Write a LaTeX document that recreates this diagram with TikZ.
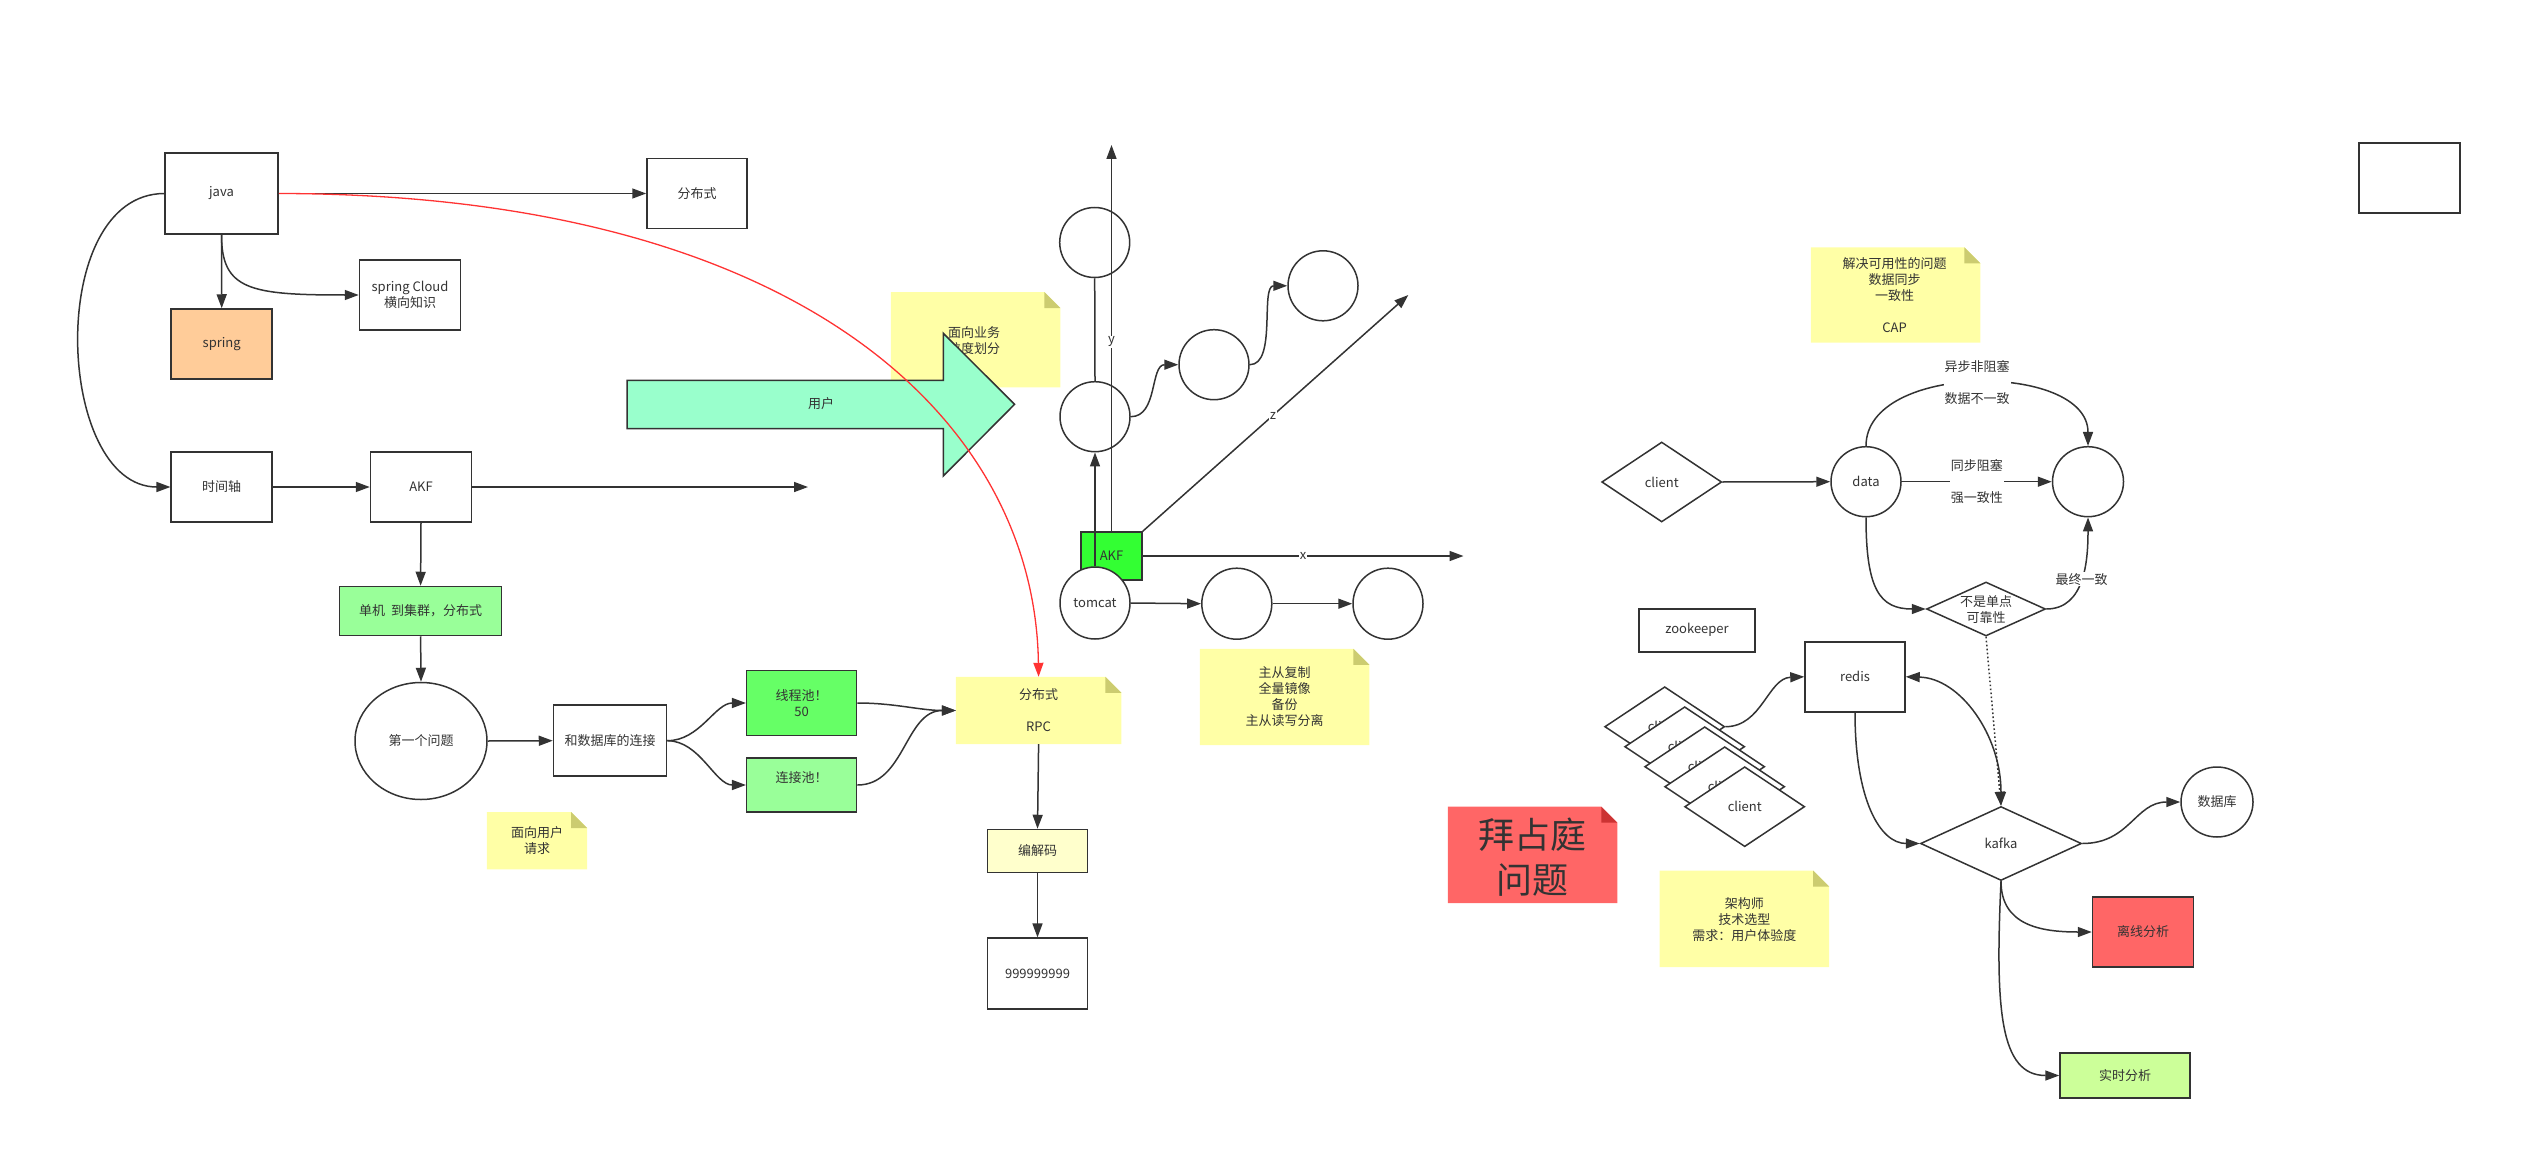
\documentclass[tikz,border=0pt]{standalone}
\usepackage{fontspec}
\setmainfont{Noto Sans CJK SC}
\usetikzlibrary{shapes.geometric,arrows.meta}
\definecolor{ln}{HTML}{333333}
\definecolor{springc}{HTML}{FFCC99}
\definecolor{gA}{HTML}{99FF99}
\definecolor{gB}{HTML}{66FF66}
\definecolor{gC}{HTML}{33FF33}
\definecolor{userc}{HTML}{99FFCC}
\definecolor{notey}{HTML}{FFFFA6}
\definecolor{foldy}{HTML}{CCCC70}
\definecolor{codecc}{HTML}{FFFFCC}
\definecolor{redn}{HTML}{FF6666}
\definecolor{redfold}{HTML}{CC3333}
\definecolor{rtc}{HTML}{CCFF99}
\definecolor{redl}{HTML}{FF3333}
\newcommand\mynote[7]{%
  \node[inner sep=0pt, minimum width=#4pt, minimum height=#5pt] (#1) at (#2,#3) {};
  \fill[#6] (#1.south west) -- (#1.north west) -- ([xshift=-16pt]#1.north east) -- ([yshift=-16pt]#1.north east) -- (#1.south east) -- cycle;
  \fill[#7] ([xshift=-16pt]#1.north east) -- ([yshift=-16pt]#1.north east) -- ([xshift=-16pt,yshift=-16pt]#1.north east) -- cycle;
}
\begin{document}
\begin{tikzpicture}[x=1pt,y=-1pt,
  every node/.style={font=\fontsize{13}{16}\selectfont, text=ln},
  sz/.style 2 args={minimum width=#1pt, minimum height=#2pt},
  box/.style={draw=ln, line width=1.5pt, fill=white, inner sep=1pt, align=center},
  circ/.style={ellipse, draw=ln, line width=1.5pt, fill=white, inner sep=0pt},
  dia/.style={diamond, draw=ln, line width=1.5pt, fill=white, inner sep=0pt},
  conn/.style={draw=ln, line width=1.5pt},
  arr/.style={conn, -{Triangle[length=14pt,width=10pt]}},
  lbl/.style={fill=white, inner sep=1pt, align=center},
  ntext/.style={align=center}]
\useasboundingbox (0,0) rectangle (2522,1161);

% ---------- notes (background) ----------
\mynote{rpc}{1038.6}{710.5}{165}{67}{notey}{foldy}
\node[ntext] (rpct) at (rpc) {分布式\\~\\RPC};
\mynote{user}{537}{840.7}{100}{57}{notey}{foldy}
\node[ntext] (usert) at (user) {面向用户\\请求};
\mynote{biz}{975.6}{339.7}{169}{95}{notey}{foldy}
\node[ntext] (bizt) at (974,340.5) {面向业务\\粒度划分};
\mynote{ms}{1284.6}{697}{169}{96}{notey}{foldy}
\node[ntext] (mst) at (ms) {主从复制\\全量镜像\\备份\\主从读写分离};
\mynote{byz}{1532.6}{854.8}{169}{96}{redn}{redfold}
\node[ntext, font=\fontsize{36}{45}\selectfont] (byzt) at (1532.6,857) {拜占庭\\问题};
\mynote{arch}{1744.4}{918.8}{169}{96}{notey}{foldy}
\node[ntext] (archt) at (1744.4,919.5) {架构师\\技术选型\\需求：用户体验度};
\mynote{cap}{1895.6}{295}{169}{95}{notey}{foldy}
\node[ntext] (capt) at (1894.5,295) {解决可用性的问题\\数据同步\\一致性\\~\\CAP};

% ---------- big arrow ----------
\draw[conn, fill=userc] (627,380.3) -- (943.3,380.3) -- (943.3,333.3) -- (1014.6,404.3) -- (943.3,476) -- (943.3,428.7) -- (627,428.7) -- cycle;
\node (usr) at (821,404) {用户};

% ---------- left nodes ----------
\node[box,sz={113}{81}] (java) at (221.5,193.5) {java};
\node[box,sz={100}{70}] (fbs) at (697,193.5) {分布式};
\node[box,sz={101}{70},fill=springc] (spring) at (221.7,344) {spring};
\node[box,sz={101}{70}] (scloud) at (410,295) {spring Cloud\\横向知识};
\node[box,sz={101}{70}] (time) at (221.7,487) {时间轴};
\node[box,sz={101}{70}] (akfa) at (421,487) {AKF};
\coordinate (akfend) at (808,487);
\node[box,sz={162}{49},fill=gA] (single) at (420.6,611) {单机\ \ 到集群，分布式};
\node[circ,sz={132}{117}] (q1) at (421,741) {第一个问题};
\node[box,sz={113}{71}] (db) at (610,740.7) {和数据库的连接};
\node[box,sz={110}{65},fill=gB] (tp) at (801.7,703) {线程池！\\50};
\node[box,sz={110}{54},fill=gA] (cp) at (801.7,785) {连接池！\\~};
\node[box,sz={100}{43},fill=codecc] (codec) at (1037.5,851) {编解码};
\node[box,sz={100}{71}] (nines) at (1037.5,973.7) {999999999};

% ---------- AKF cube ----------
\node[circ,sz={70}{70}] (c1) at (1094.7,242.5) {};
\node[circ,sz={70}{70}] (c2) at (1095,416.7) {};
\node[circ,sz={70}{70}] (c3) at (1214,364.7) {};
\node[circ,sz={70}{70}] (c4) at (1323,285.8) {};
\node[box,sz={61}{48},fill=gC] (akfb) at (1111.5,556) {AKF};
\node[circ,sz={70}{72}] (tomcat) at (1095,603) {tomcat};
\node[circ,sz={70}{71}] (c5) at (1236.8,603.7) {};
\node[circ,sz={70}{71}] (c6) at (1388,603.7) {};
\coordinate (yend) at (1111.5,145);
\coordinate (zend) at (1408.3,295);
\coordinate (xend) at (1463.5,556);

% ---------- right nodes ----------
\node[box,sz={101}{70}] (tr) at (2409.5,178) {};
\node[dia,sz={120}{80}] (client) at (1661.7,482) {client};
\node[circ,sz={70}{70}] (data) at (1866,481.7) {data};
\node[circ,sz={71}{70}] (rc) at (2088,481.7) {};
\node[dia,sz={119}{54}] (ns) at (1986,609) {};
\node[ntext] (nst) at (1986,610) {不是单点\\可靠性};
\node[box,sz={116}{43}] (zk) at (1697,630.3) {zookeeper};
\node[box,sz={100}{70}] (redis) at (1855,676.8) {redis};
\node[dia,sz={120}{80}] (cla) at (1664.7,726.7) {client};
\node[dia,sz={120}{80}] (clb) at (1684.7,746.7) {client};
\node[dia,sz={120}{80}] (clc) at (1704.7,766.7) {client};
\node[dia,sz={120}{80}] (cld) at (1724.7,786.7) {client};
\node[dia,sz={120}{80}] (cle) at (1744.7,806.7) {client};
\node[dia,sz={161}{74}] (kafka) at (2001,843.5) {kafka};
\node[circ,sz={72}{70}] (dbc) at (2217,802) {数据库};
\node[box,sz={101}{70},fill=redn] (off) at (2143,932) {离线分析};
\node[box,sz={130}{45},fill=rtc] (rt) at (2125,1075.5) {实时分析};

% ---------- left edges ----------
\draw[arr] (java.east) -- (fbs.west);
\draw[arr] (java.south) -- (spring.north);
\draw[arr] (java.south) .. controls (221.5,290) and (250,295) .. (scloud.west);
\draw[arr] (java.west) .. controls (45,194) and (55,487) .. (time.west);
\draw[arr] (time.east) -- (akfa.west);
\draw[arr] (akfa.east) -- (akfend);
\draw[arr] (akfa.south) -- (single.north);
\draw[arr] (single.south) -- (q1.north);
\draw[arr] (q1.east) -- (db.west);
\draw[arr] (db.east) .. controls (700,740.7) and (715,703) .. (tp.west);
\draw[arr] (db.east) .. controls (700,740.7) and (715,785) .. (cp.west);
\draw[arr] (tp.east) .. controls (895,703) and (920,710.5) .. (rpc.west);
\draw[arr] (cp.east) .. controls (905,785) and (905,710.5) .. (rpc.west);
\draw[arr] (rpc.south) -- (codec.north);
\draw[arr] (codec.south) -- (nines.north);

% ---------- AKF edges ----------
\draw[arr] (akfb.north) -- node[lbl, pos=.49] {y} (yend);
\draw[conn] (c2.north) -- (c1.south);
\draw[arr] (tomcat.north) -- (c2.south);
\draw[arr] (akfb.north east) -- node[lbl, pos=.49] {z} (zend);
\draw[arr] (akfb.east) -- node[lbl, pos=.5] {x} (xend);
\draw[arr] (tomcat.east) -- (c5.west);
\draw[arr] (c5.east) -- (c6.west);
\draw[arr] (c2.east) .. controls (1158,416.7) and (1150,364.7) .. (c3.west);
\draw[arr] (c3.east) .. controls (1277,364.7) and (1260,285.8) .. (c4.west);

% ---------- right edges ----------
\draw[arr] (client.east) -- (data.west);
\draw[arr] (data.north) .. controls (1866,362) and (2088,362) .. node[lbl, pos=.5] {异步非阻塞\\~\\数据不一致} (rc.north);
\draw[arr] (data.east) -- node[lbl] {同步阻塞\\~\\强一致性} (rc.west);
\draw[arr] (data.south) .. controls (1866,590) and (1880,609) .. (ns.west);
\draw[arr] (ns.east) .. controls (2085,609) and (2088,560) .. node[lbl, pos=.5] {最终一致} (rc.south);
\draw[arr, dash pattern=on 1.6pt off 2.4pt] (ns.south) -- (kafka.north);
\draw[arr] (cla.east) .. controls (1762,726.7) and (1768,678) .. (redis.west);
\draw[conn, {Triangle[length=14pt,width=10pt]}-{Triangle[length=14pt,width=10pt]}] (redis.east) .. controls (1960,678) and (2001,735) .. (kafka.north);
\draw[arr] (redis.south) .. controls (1855,800) and (1880,843.5) .. (kafka.west);
\draw[arr] (kafka.east) .. controls (2130,843.5) and (2135,802) .. (dbc.west);
\draw[arr] (kafka.south) .. controls (2001,925) and (2040,932) .. (off.west);
\draw[arr] (kafka.south) .. controls (1995,1010) and (2000,1075.5) .. (rt.west);

% ---------- red curve ----------
\draw[arr, draw=redl, line width=1.3pt] (java.east) .. controls (800,194) and (1035,420) .. (rpc.north);
\end{tikzpicture}
\end{document}
